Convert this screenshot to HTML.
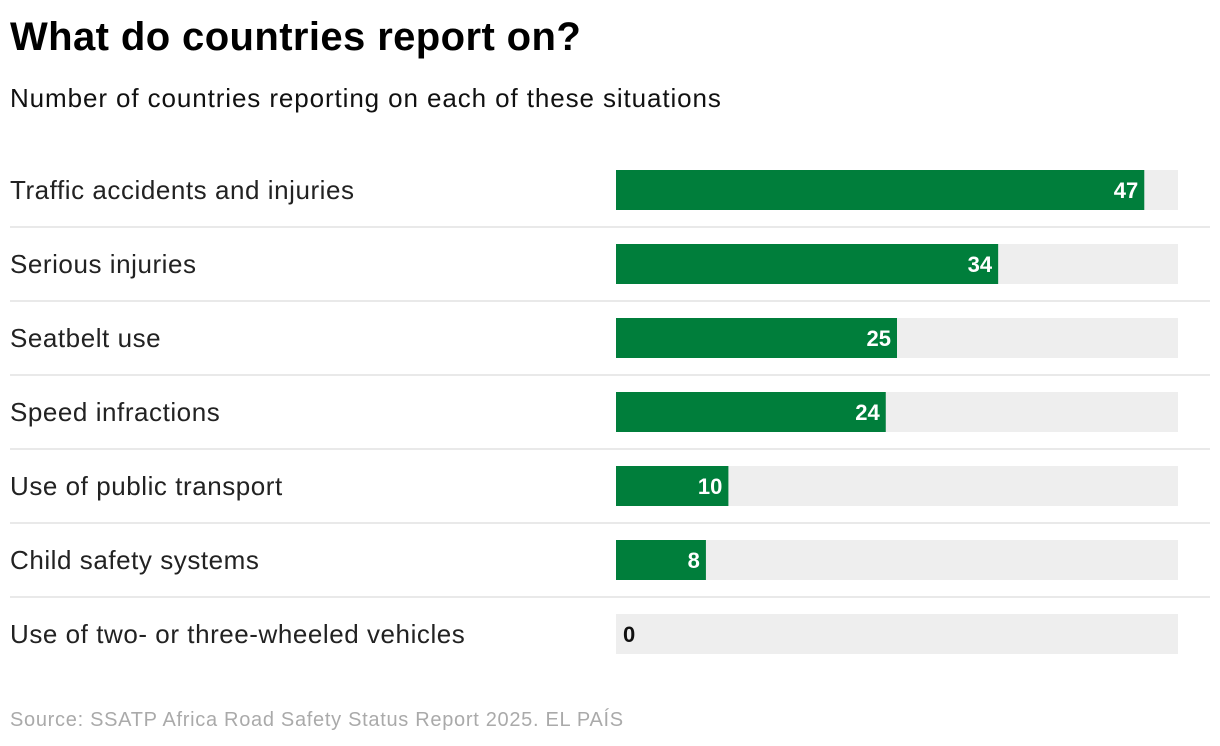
<!DOCTYPE html>
<html><head><meta charset="utf-8"><style>
body{margin:0;width:1220px;height:746px;background:#fff;font-family:"Liberation Sans",sans-serif;overflow:hidden;position:relative}
.t{position:absolute;left:10px;top:15px;font-size:40px;font-weight:bold;color:#000;letter-spacing:0.4px}
.s{position:absolute;left:10px;top:83px;font-size:26px;color:#111;letter-spacing:0.9px}
.src{position:absolute;left:10px;top:709px;font-size:20px;color:#aaa;letter-spacing:0.7px}
</style></head><body>
<div class="t">What do countries report on?</div>
<div class="s">Number of countries reporting on each of these situations</div>
<svg id="c" width="1220" height="746" style="position:absolute;left:0;top:0"></svg>
<div class="src">Source: SSATP Africa Road Safety Status Report 2025. EL PAÍS</div>
<script>
const categories=["Traffic accidents and injuries","Serious injuries","Seatbelt use","Speed infractions","Use of public transport","Child safety systems","Use of two- or three-wheeled vehicles"];
const values=[47,34,25,24,10,8,0];
const maxValue=50;
const svg=document.getElementById('c');const NS='http://www.w3.org/2000/svg';
const x0=616,w=562,top0=170,step=74,bh=40;
const xs=v=>x0+v/maxValue*w;
function mk(t,a){const e=document.createElementNS(NS,t);for(const k in a)e.setAttribute(k,a[k]);svg.appendChild(e);return e;}
categories.forEach((c,i)=>{
const y=top0+i*step;
const l=mk('text',{x:10,y:y+29,'font-size':26,fill:'#222','font-family':'Liberation Sans, sans-serif','letter-spacing':0.55});l.textContent=c;


const bg=mk('rect',{x:x0,y:y,width:w,height:bh,fill:'#eeeeee'});


const b=mk('rect',{x:x0,y:y,width:xs(values[i])-x0,height:bh,fill:'#007e3b'});


const v=values[i];
const tx=v>0?mk('text',{x:xs(v)-6,y:y+28,'text-anchor':'end','font-size':22,'font-weight':'bold',fill:'#fff'}):mk('text',{x:x0+7,y:y+28,'font-size':22,'font-weight':'bold',fill:'#111'});
tx.textContent=v;


if(i<categories.length-1){const ln=mk('line',{x1:10,x2:1210,y1:y+57,y2:y+57,stroke:'#e2e2e2','stroke-width':1.5});

}
});
</script>
</body></html>
